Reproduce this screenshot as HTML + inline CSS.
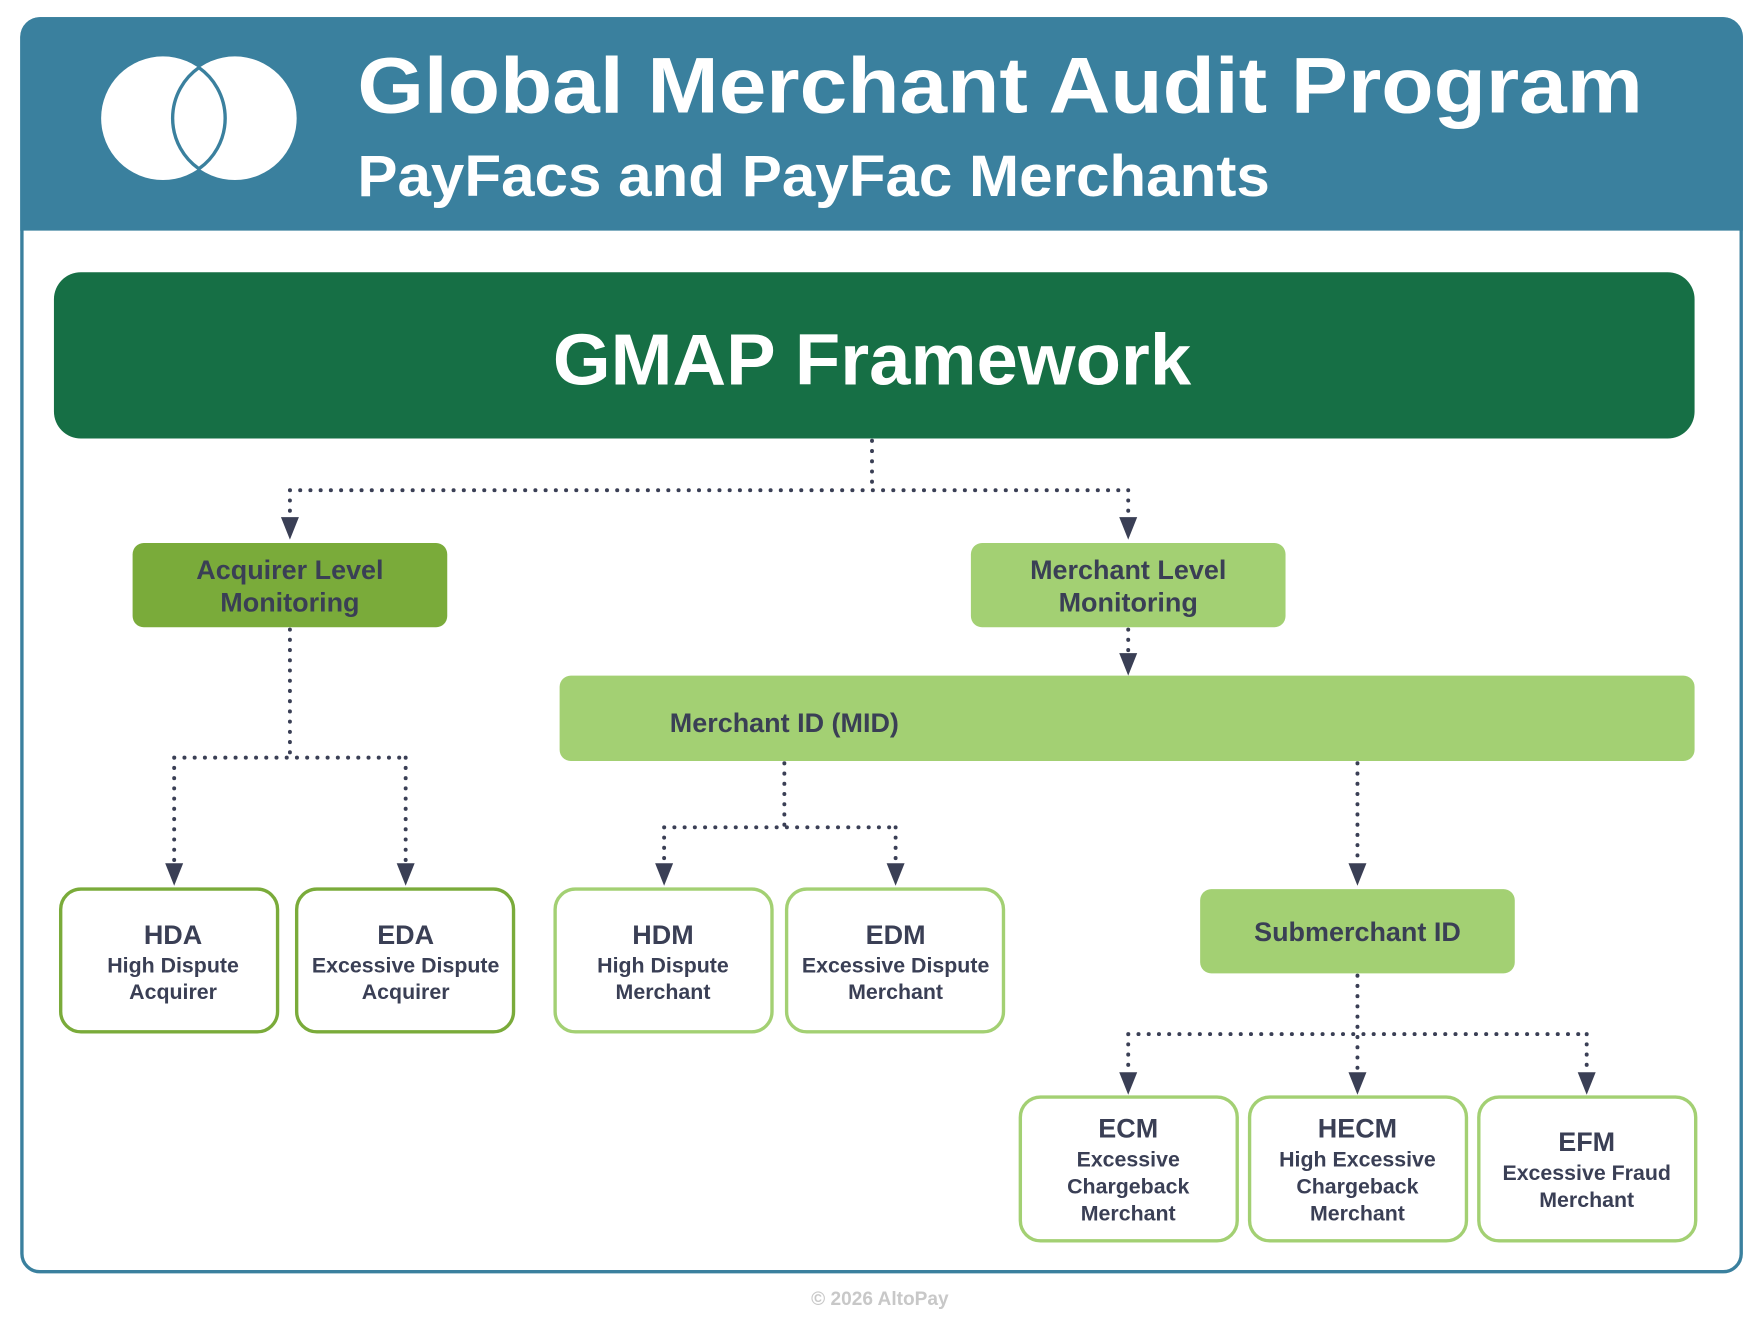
<!DOCTYPE html>
<html><head><meta charset="utf-8"><style>
html,body{margin:0;padding:0;background:#fff;}
svg{display:block;}
text{font-family:"Liberation Sans",sans-serif;font-weight:bold;}
</style></head><body>
<svg width="1762" height="1322" viewBox="0 0 1568 1176" xmlns="http://www.w3.org/2000/svg">
<defs>
<marker id="ar" markerWidth="10" markerHeight="10" refX="5" refY="9" orient="auto" markerUnits="userSpaceOnUse" viewBox="0 0 10 10">
</marker>
</defs>
<!-- frame -->
<rect x="19.5" y="16.5" width="1530" height="1115" rx="16" fill="#fff" stroke="#3a809e" stroke-width="3"/>
<path d="M18 205 V33 a18 18 0 0 1 18 -18 H1533 a18 18 0 0 1 18 18 V205 Z" fill="#3a809e"/>
<!-- logo -->
<circle cx="145" cy="105" r="55" fill="#fff"/>
<circle cx="209" cy="105" r="55" fill="#fff"/>
<path d="M177 60 A55 55 0 0 0 177 150 A55 55 0 0 0 177 60 Z" fill="none" stroke="#3a809e" stroke-width="3"/>
<text x="318" y="100" font-size="70" fill="#fff" textLength="1144" lengthAdjust="spacingAndGlyphs">Global Merchant Audit Program</text>
<text x="318" y="174" font-size="52" fill="#fff" style="font-weight:600" textLength="812" lengthAdjust="spacingAndGlyphs">PayFacs and PayFac Merchants</text>
<!-- GMAP -->
<rect x="48" y="242" width="1460" height="148" rx="24" fill="#166f45"/>
<text x="776" y="342" font-size="64" fill="#fff" text-anchor="middle" textLength="568" lengthAdjust="spacingAndGlyphs">GMAP Framework</text>
<!-- connectors -->
<g fill="none" stroke="#3a3f55" stroke-width="3.5" stroke-dasharray="0.1 9" stroke-linecap="round">
<path d="M776 392 V436 M258 436 H1004 M258 436 V462 M1004 436 V462"/>
<path d="M1004 560 V584"/>
<path d="M258 560 V674 M155 674 H361 M155 674 V770 M361 674 V770"/>
<path d="M698 679 V736 M591 736 H797 M591 736 V770 M797 736 V770"/>
<path d="M1208 679 V770"/>
<path d="M1208 868 V955 M1004 920 H1412 M1004 920 V955 M1412 920 V955"/>
</g>
<g fill="#3a3f55">
<path d="M250 460 h16 l-8 20 z"/><path d="M996 460 h16 l-8 20 z"/>
<path d="M996 581 h16 l-8 20 z"/>
<path d="M147 768 h16 l-8 20 z"/><path d="M353 768 h16 l-8 20 z"/>
<path d="M583 768 h16 l-8 20 z"/><path d="M789 768 h16 l-8 20 z"/>
<path d="M1200 768 h16 l-8 20 z"/>
<path d="M996 954 h16 l-8 20 z"/><path d="M1200 954 h16 l-8 20 z"/><path d="M1404 954 h16 l-8 20 z"/>
</g>
<!-- level boxes -->
<g fill="#3a3f55" text-anchor="middle" font-size="24">
<rect x="118" y="483" width="280" height="75" rx="10" fill="#7aab3a"/>
<text x="258" y="515">Acquirer Level</text><text x="258" y="544">Monitoring</text>
<rect x="864" y="483" width="280" height="75" rx="10" fill="#a3d073"/>
<text x="1004" y="515">Merchant Level</text><text x="1004" y="544">Monitoring</text>
<rect x="498" y="601" width="1010" height="76" rx="10" fill="#a3d073"/>
<text x="698" y="651">Merchant ID (MID)</text>
<rect x="1068" y="791" width="280" height="75" rx="10" fill="#a3d073"/>
<text x="1208" y="837">Submerchant ID</text>
</g>
<!-- leaf boxes -->
<g fill="#fff" stroke-width="3">
<rect x="54" y="791" width="193" height="127" rx="18" stroke="#7aab3a"/>
<rect x="264" y="791" width="193" height="127" rx="18" stroke="#7aab3a"/>
<rect x="494" y="791" width="193" height="127" rx="18" stroke="#a3d073"/>
<rect x="700" y="791" width="193" height="127" rx="18" stroke="#a3d073"/>
<rect x="908" y="976" width="193" height="128" rx="18" stroke="#a3d073"/>
<rect x="1112" y="976" width="193" height="128" rx="18" stroke="#a3d073"/>
<rect x="1316" y="976" width="193" height="128" rx="18" stroke="#a3d073"/>
</g>
<g fill="#3a3f55" text-anchor="middle">
<g font-size="24"><text x="154" y="840">HDA</text><text x="361" y="840">EDA</text><text x="590" y="840">HDM</text><text x="797" y="840">EDM</text>
<text x="1004" y="1012">ECM</text><text x="1208" y="1012">HECM</text><text x="1412" y="1024">EFM</text></g>
<g font-size="19">
<text x="154" y="865">High Dispute</text><text x="154" y="889">Acquirer</text>
<text x="361" y="865">Excessive Dispute</text><text x="361" y="889">Acquirer</text>
<text x="590" y="865">High Dispute</text><text x="590" y="889">Merchant</text>
<text x="797" y="865">Excessive Dispute</text><text x="797" y="889">Merchant</text>
<text x="1004" y="1038">Excessive</text><text x="1004" y="1062">Chargeback</text><text x="1004" y="1086">Merchant</text>
<text x="1208" y="1038">High Excessive</text><text x="1208" y="1062">Chargeback</text><text x="1208" y="1086">Merchant</text>
<text x="1412" y="1050">Excessive Fraud</text><text x="1412" y="1074">Merchant</text>
</g>
</g>
<text x="783" y="1161" font-size="17" fill="#c8c8c8" text-anchor="middle">© 2026 AltoPay</text>
</svg>
</body></html>
